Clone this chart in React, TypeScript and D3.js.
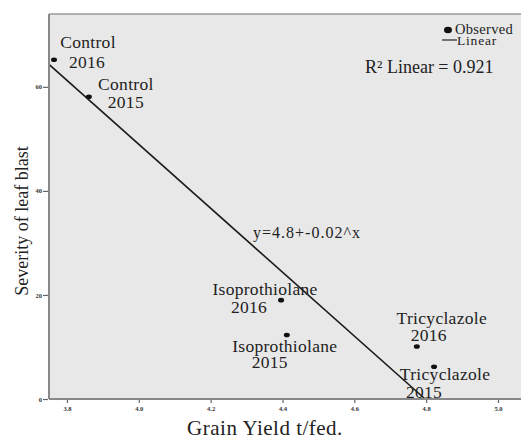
import { useEffect, useMemo, useRef } from "react";
import * as d3 from "d3";

const WIDTH = 521;
const HEIGHT = 440;
const MARGIN = { top: 14, right: 0, bottom: 41, left: 49 };
const FONT = "'Liberation Serif', 'Times New Roman', serif";

// observed treatments
const treatments = ["Control", "Control", "Isoprothiolane", "Isoprothiolane", "Tricyclazole", "Tricyclazole"];
const seasons = ["2016", "2015", "2016", "2015", "2016", "2015"];
const grainYield = [3.764, 3.861, 4.396, 4.412, 4.774, 4.822];
const leafBlast = [65.2, 58.1, 19.0, 12.3, 10.1, 6.2];

// fitted line as drawn (start / end)
const fitX = [3.75, 4.797];
const fitY = [64.3, 0];

const xTicks = [3.8, 4.0, 4.2, 4.4, 4.6, 4.8, 5.0];
const yTicks = [0, 20, 40, 60];
const xDomain = [3.75, 5.064];
const yDomain = [0, 74];

const equationText = "y=4.8+-0.02^x";
const r2Text = "R\u00B2 Linear = 0.921";

// label placement (pixel offsets of the two lines from each point, middle anchored)
const LABEL_OFFSETS = [
  [34, -12, 33, 8],
  [37, -7, 37, 11],
  [-16, -5, -32, 13],
  [-2, 17, -17, 33],
  [25, -22, 12, -5],
  [11, 13, -10, 31],
];

export default function App() {
  const xAxisRef = useRef(null);
  const yAxisRef = useRef(null);
  const boundsWidth = WIDTH - MARGIN.left - MARGIN.right;
  const boundsHeight = HEIGHT - MARGIN.top - MARGIN.bottom;

  const xScale = useMemo(
    () => d3.scaleLinear().domain(xDomain).range([0, boundsWidth]),
    [boundsWidth]
  );
  const yScale = useMemo(
    () => d3.scaleLinear().domain(yDomain).range([boundsHeight, 0]),
    [boundsHeight]
  );

  useEffect(() => {
    const gx = d3.select(xAxisRef.current);
    gx.selectAll("*").remove();
    gx.call(d3.axisBottom(xScale).tickValues(xTicks).tickSize(3).tickFormat(d3.format(".1f")));
    gx.select(".domain").remove();
    gx.selectAll(".tick line").attr("stroke", "#666").attr("stroke-width", 1.2);
    gx.selectAll(".tick text")
      .attr("y", 6)
      .attr("font-family", FONT)
      .attr("font-size", 6.5)
      .attr("font-weight", "bold")
      .attr("fill", "#333");

    const gy = d3.select(yAxisRef.current);
    gy.selectAll("*").remove();
    gy.call(d3.axisLeft(yScale).tickValues(yTicks).tickSize(5).tickFormat(d3.format(".0f")));
    gy.select(".domain").remove();
    gy.selectAll(".tick line").attr("stroke", "#666").attr("stroke-width", 1.2);
    gy.selectAll(".tick text")
      .attr("x", -6)
      .attr("font-family", FONT)
      .attr("font-size", 6.5)
      .attr("font-weight", "bold")
      .attr("fill", "#333");
  }, [xScale, yScale]);

  const fitPath = d3
    .line<number>()
    .x((d) => xScale(fitX[d]))
    .y((d) => yScale(fitY[d]))([0, 1]);

  const points = grainYield.map((g, i) => {
    const cx = xScale(g);
    const cy = yScale(leafBlast[i]);
    const off = LABEL_OFFSETS[i];
    return (
      <g key={i}>
        <ellipse cx={cx} cy={cy} rx={3} ry={2.3} fill="#111" />
        <text x={cx + off[0]} y={cy + off[1]} textAnchor="middle" fontSize={17.5} letterSpacing={0.3} fill="#222">
          {treatments[i]}
        </text>
        <text x={cx + off[2]} y={cy + off[3]} textAnchor="middle" fontSize={17.5} letterSpacing={0.3} fill="#222">
          {seasons[i]}
        </text>
      </g>
    );
  });

  return (
    <svg
      width={WIDTH}
      height={HEIGHT}
      style={{ position: "absolute", left: 0, top: 0, background: "#fff" }}
      fontFamily={FONT}
    >
      <g transform={`translate(${[MARGIN.left, MARGIN.top].join(",")})`}>
        <rect x={0} y={0} width={boundsWidth} height={boundsHeight} fill="#e8e8e8" />
        <line x1={0} x2={boundsWidth} y1={0} y2={0} stroke="#999" strokeWidth={1.5} />
        <path d={fitPath ?? ""} fill="none" stroke="#1a1a1a" strokeWidth={1.6} />
        {points}
        <text x={204} y={224} fontSize={16} letterSpacing={1} fill="#222">
          {equationText}
        </text>
        <text x={316} y={59} fontSize={18} fill="#222">
          {r2Text}
        </text>
        <g>
          <ellipse cx={399} cy={16} rx={4} ry={3.3} fill="#111" />
          <text x={406} y={20} fontSize={14.5} letterSpacing={0.3} fill="#222">Observed</text>
          <line x1={393} x2={408} y1={26} y2={26} stroke="#222" strokeWidth={1.2} />
          <text x={408} y={31} fontSize={13.5} letterSpacing={0.8} fill="#222">Linear</text>
        </g>
        <line x1={0} x2={0} y1={0} y2={boundsHeight} stroke="#888" strokeWidth={2} />
        <line x1={0} x2={boundsWidth} y1={boundsHeight} y2={boundsHeight} stroke="#888" strokeWidth={2} />
        <g ref={xAxisRef} transform={`translate(0, ${boundsHeight + 1})`} />
        <g ref={yAxisRef} transform={`translate(-1, 0)`} />
      </g>
      <text x={265} y={435} textAnchor="middle" fontSize={21} letterSpacing={0.5} fill="#222">
        Grain Yield t/fed.
      </text>
      <text
        transform="translate(28, 221) rotate(-90)"
        textAnchor="middle"
        fontSize={18}
        fill="#222"
      >
        Severity of leaf blast
      </text>
    </svg>
  );
}
